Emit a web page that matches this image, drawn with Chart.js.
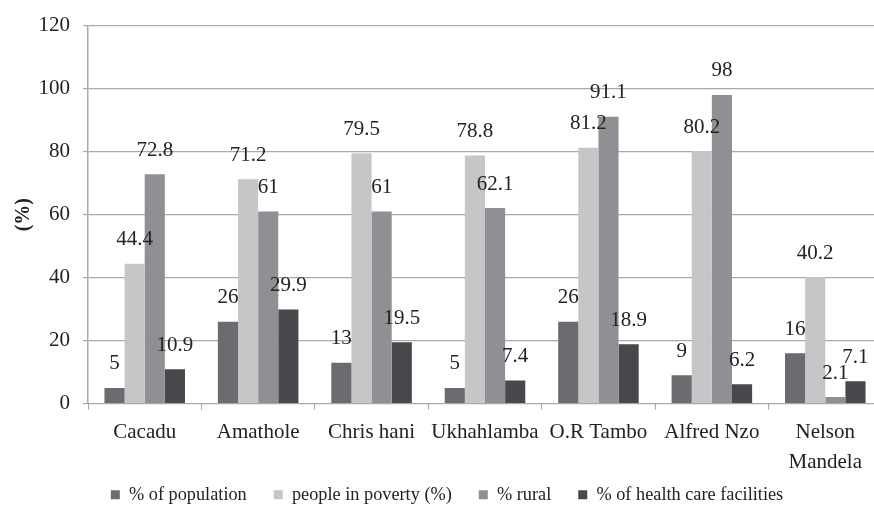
<!DOCTYPE html>
<html>
<head>
<meta charset="utf-8">
<script src="https://cdn.jsdelivr.net/npm/chart.js@4.4.1/dist/chart.umd.min.js"></script>
<style>
  html, body { margin: 0; padding: 0; background: #fff; overflow: hidden; }
  #wrap { width: 884px; height: 516px; }
</style>
</head>
<body>
<div id="wrap"><canvas id="c" width="884" height="516"></canvas></div>
<script>
// Eastern Cape districts
const districts = ['Cacadu', 'Amathole', 'Chris hani', 'Ukhahlamba', 'O.R Tambo', 'Alfred Nzo', ['Nelson', 'Mandela']];
const populationPct = [5, 26, 13, 5, 26, 9, 16];
const povertyPct = [44.4, 71.2, 79.5, 78.8, 81.2, 80.2, 40.2];
const ruralPct = [72.8, 61, 61, 62.1, 91.1, 98, 2.1];
const healthFacilitiesPct = [10.9, 29.9, 19.5, 7.4, 18.9, 6.2, 7.1];
const yTicks = [0, 20, 40, 60, 80, 100, 120];

const FAMILY = '"Liberation Serif", serif';
const TEXT_COLOR = '#222';
const GRID_COLOR = '#a9a9a9';

Chart.defaults.font.family = FAMILY;

// value labels above every bar
const valueLabels = {
  id: 'valueLabels',
  afterLayout(chart) {
    // let the two-line category label run past the reserved axis height
    chart.scales.x.bottom = chart.height;
  },
  afterDatasetsDraw(chart) {
    const ctx = chart.ctx;
    ctx.save();
    ctx.font = '21px ' + FAMILY;
    ctx.fillStyle = TEXT_COLOR;
    ctx.textAlign = 'center';
    ctx.textBaseline = 'middle';
    chart.data.datasets.forEach((ds, i) => {
      chart.getDatasetMeta(i).data.forEach((bar, j) => {
        ctx.fillText(String(ds.data[j]), bar.x, bar.y - 24);
      });
    });
    ctx.restore();
  }
};

new Chart(document.getElementById('c'), {
  type: 'bar',
  data: {
    labels: districts,
    datasets: [
      { label: '% of population', data: populationPct, backgroundColor: '#6c6c70' },
      { label: 'people in poverty (%)', data: povertyPct, backgroundColor: '#c6c6c8' },
      { label: '% rural', data: ruralPct, backgroundColor: '#909094' },
      { label: '% of health care facilities', data: healthFacilitiesPct, backgroundColor: '#48484c' }
    ]
  },
  options: {
    responsive: false,
    animation: false,
    layout: { padding: { top: 3.5, right: 2, bottom: 2, left: 12 } },
    datasets: { bar: { categoryPercentage: 0.71, barPercentage: 1.0 } },
    scales: {
      x: {
        offset: true,
        afterFit(scale) { scale.height = 55; },
        grid: { display: true, drawOnChartArea: false, drawTicks: true, tickLength: 6, color: GRID_COLOR, offset: true },
        border: { display: true, color: GRID_COLOR },
        ticks: { color: TEXT_COLOR, font: { family: FAMILY, size: 21, lineHeight: 1.43 }, padding: 8, maxRotation: 0, autoSkip: false }
      },
      y: {
        min: 0,
        max: 120,
        afterBuildTicks(scale) { scale.ticks = yTicks.map(v => ({ value: v })); },
        afterFit(scale) { scale.width = 76; },
        grid: { color: GRID_COLOR, tickLength: 5, lineWidth: 1.2 },
        border: { display: true, color: GRID_COLOR, width: 1.5 },
        ticks: { color: TEXT_COLOR, font: { family: FAMILY, size: 21 }, padding: 13 },
        title: { display: true, text: '(%)', color: TEXT_COLOR, font: { family: FAMILY, size: 20, weight: 'bold' }, padding: { top: 0, bottom: 2 } }
      }
    },
    plugins: {
      legend: {
        position: 'bottom',
        labels: {
          color: TEXT_COLOR,
          font: { family: FAMILY, size: 18.3 },
          boxWidth: 9,
          boxHeight: 9,
          padding: 27,
          generateLabels(chart) {
            return chart.data.datasets.map((ds, i) => ({
              text: ds.label,
              fillStyle: ds.backgroundColor,
              strokeStyle: ds.backgroundColor,
              lineWidth: 0,
              fontColor: TEXT_COLOR,
              datasetIndex: i
            }));
          }
        }
      },
      tooltip: { enabled: false }
    }
  },
  plugins: [valueLabels]
});
</script>
</body>
</html>
